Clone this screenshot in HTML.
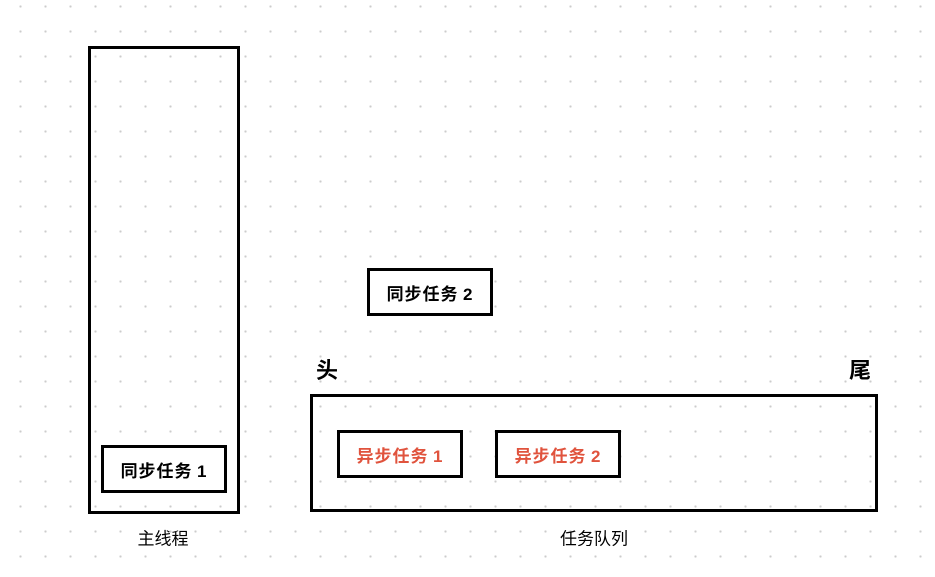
<!DOCTYPE html>
<html><head><meta charset="utf-8"><style>
body{margin:0;width:935px;height:577px;overflow:hidden;background:#fff;
background-image:radial-gradient(circle,#ccc 1px,transparent 1.3px);background-size:25px 25px;background-position:8px -6px;
font-family:"Liberation Sans","Noto Sans CJK SC",sans-serif;position:relative}
.b{position:absolute;border:3px solid #000;box-sizing:border-box;background:#fff}
.t{display:flex;align-items:center;justify-content:center;font-size:17px;font-weight:bold;letter-spacing:1px}
.r{color:#e0533d}
.l{position:absolute;transform:translate(-50%,-50%);white-space:nowrap}
</style></head><body>
<div class="b" style="left:88px;top:46px;width:152px;height:468px;background:transparent"></div>
<div class="b t" style="left:101px;top:445px;width:126px;height:48px">同步任务&thinsp;1</div>
<div class="b t" style="left:367px;top:268px;width:126px;height:48px">同步任务&thinsp;2</div>
<div class="b" style="left:310px;top:394px;width:568px;height:118px;background:transparent"></div>
<div class="b t r" style="left:337px;top:430px;width:126px;height:48px">异步任务&thinsp;1</div>
<div class="b t r" style="left:495px;top:430px;width:126px;height:48px">异步任务&thinsp;2</div>
<div class="l" style="left:327px;top:369px;font-size:22px;font-weight:bold">头</div>
<div class="l" style="left:860px;top:369px;font-size:22px;font-weight:bold">尾</div>
<div class="l" style="left:163px;top:537px;font-size:17px">主线程</div>
<div class="l" style="left:594px;top:537px;font-size:17px">任务队列</div>
</body></html>
